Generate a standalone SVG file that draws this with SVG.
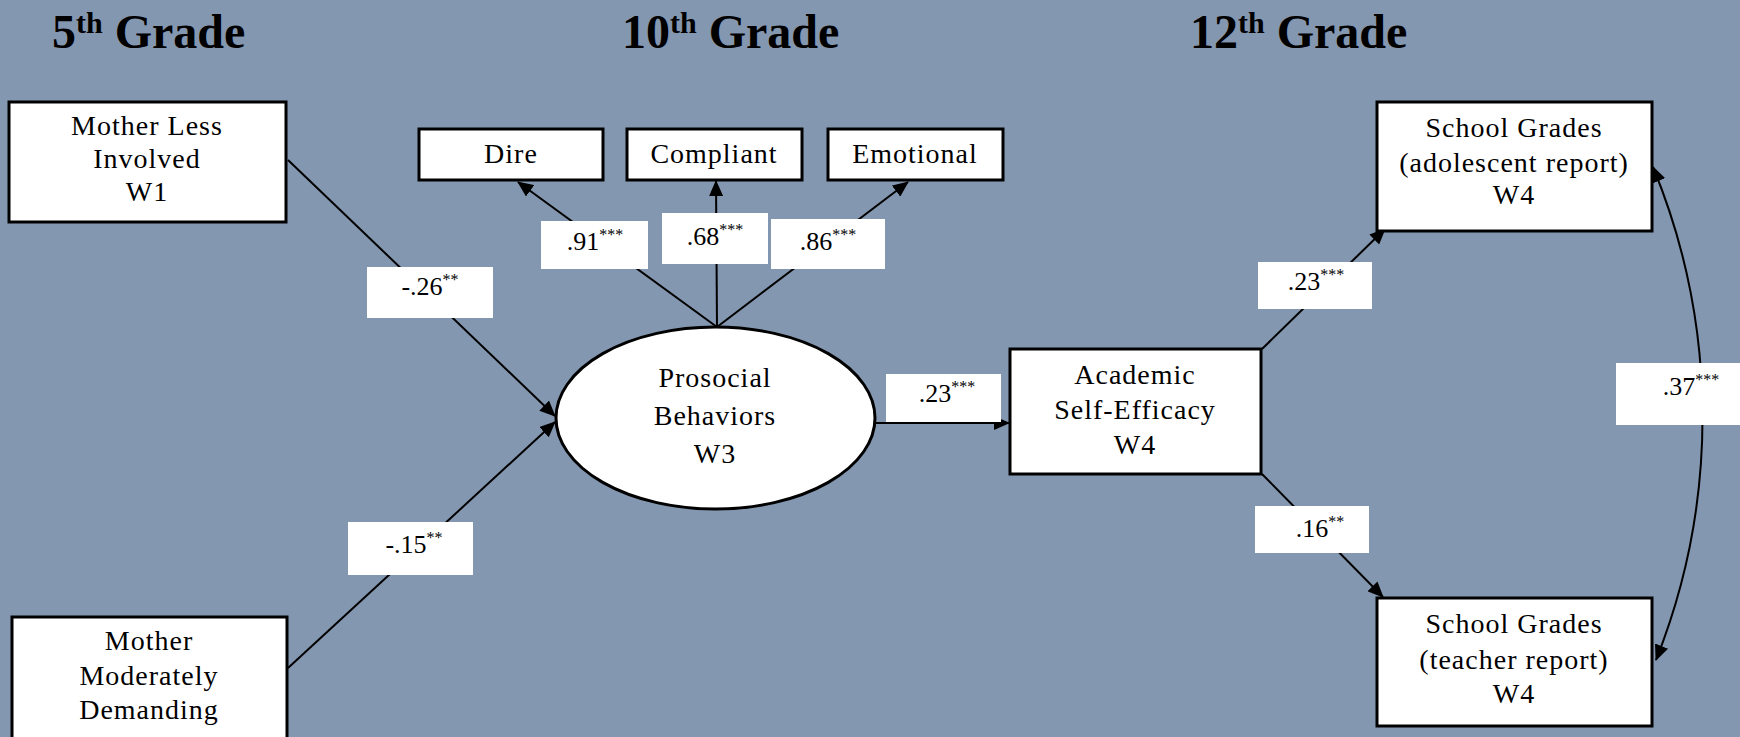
<svg xmlns="http://www.w3.org/2000/svg" width="1740" height="737" viewBox="0 0 1740 737">
<style>
.bg{fill:#8497B0}
.box{fill:#fff;stroke:#000;stroke-width:3}
.t{font-family:"Liberation Serif","Times New Roman",serif;font-size:28px;letter-spacing:1px;fill:#000;text-anchor:middle}
.title{font-family:"Liberation Serif","Times New Roman",serif;font-size:48px;font-weight:bold;fill:#000}
.sup{font-size:30px}
.lab{fill:#fff}
.lt{font-family:"Liberation Serif","Times New Roman",serif;font-size:26px;fill:#000;text-anchor:middle}
.ast{font-size:16px}
.c{stroke:#000;stroke-width:2;fill:none}
</style>
<defs>
<marker id="ah" markerUnits="userSpaceOnUse" markerWidth="16" markerHeight="14" refX="15" refY="7" orient="auto-start-reverse">
<path d="M0,0 L16,7 L0,14 z" fill="#000"/>
</marker>
</defs>
<rect class="bg" x="0" y="0" width="1740" height="737"/>
<g id="titles">
<text class="title" x="52" y="48">5<tspan class="sup" dy="-15">th</tspan><tspan dy="15"> Grade</tspan></text>
<text class="title" x="622" y="48">10<tspan class="sup" dy="-15">th</tspan><tspan dy="15"> Grade</tspan></text>
<text class="title" x="1190" y="48">12<tspan class="sup" dy="-15">th</tspan><tspan dy="15"> Grade</tspan></text>
</g>
<g id="connectors">
<line class="c" x1="288" y1="160" x2="555" y2="416" marker-end="url(#ah)"/>
<line class="c" x1="288" y1="668" x2="555" y2="422" marker-end="url(#ah)"/>
<line class="c" x1="717" y1="327" x2="518" y2="182" marker-end="url(#ah)"/>
<line class="c" x1="717" y1="327" x2="716" y2="181" marker-end="url(#ah)"/>
<line class="c" x1="717" y1="327" x2="908" y2="182" marker-end="url(#ah)"/>
<line class="c" x1="875" y1="423" x2="1009" y2="423" stroke-width="3" marker-end="url(#ah)"/>
<line class="c" x1="1262" y1="349" x2="1385" y2="229" marker-end="url(#ah)"/>
<line class="c" x1="1262" y1="474" x2="1383" y2="597" marker-end="url(#ah)"/>
<path class="c" d="M1653,167 A657,657 0 0 1 1656,660" marker-start="url(#ah)" marker-end="url(#ah)"/>
</g>
<g id="n_mli">
<rect class="box" x="9" y="102" width="277" height="120"/>
<text class="t" x="147" y="135">Mother Less</text>
<text class="t" x="147" y="168">Involved</text>
<text class="t" x="147" y="201">W1</text>
</g>
<g id="n_mmd">
<rect class="box" x="12" y="617" width="275" height="130"/>
<text class="t" x="149" y="650">Mother</text>
<text class="t" x="149" y="685">Moderately</text>
<text class="t" x="149" y="719">Demanding</text>
</g>
<g id="n_dire">
<rect class="box" x="419" y="129" width="184" height="51"/>
<text class="t" x="511" y="163">Dire</text>
</g>
<g id="n_compliant">
<rect class="box" x="627" y="129" width="175" height="51"/>
<text class="t" x="714" y="163">Compliant</text>
</g>
<g id="n_emotional">
<rect class="box" x="828" y="129" width="175" height="51"/>
<text class="t" x="915" y="163">Emotional</text>
</g>
<g id="n_prosocial">
<ellipse class="box" cx="715.5" cy="418" rx="159.5" ry="91"/>
<text class="t" x="715" y="387">Prosocial</text>
<text class="t" x="715" y="425">Behaviors</text>
<text class="t" x="715" y="463">W3</text>
</g>
<g id="n_academic">
<rect class="box" x="1010" y="349" width="251" height="125"/>
<text class="t" x="1135" y="384">Academic</text>
<text class="t" x="1135" y="419">Self-Efficacy</text>
<text class="t" x="1135" y="454">W4</text>
</g>
<g id="n_sg_adol">
<rect class="box" x="1377" y="102" width="275" height="129"/>
<text class="t" x="1514" y="137">School Grades</text>
<text class="t" x="1514" y="172">(adolescent report)</text>
<text class="t" x="1514" y="204">W4</text>
</g>
<g id="n_sg_teach">
<rect class="box" x="1377" y="598" width="275" height="128"/>
<text class="t" x="1514" y="633">School Grades</text>
<text class="t" x="1514" y="669">(teacher report)</text>
<text class="t" x="1514" y="703">W4</text>
</g>
<g id="labels">
<rect class="lab" x="367" y="267" width="126" height="51"/>
<text class="lt" x="430" y="295">-.26<tspan class="ast" dy="-10">**</tspan></text>
<rect class="lab" x="348" y="522" width="125" height="53"/>
<text class="lt" x="414" y="553">-.15<tspan class="ast" dy="-10">**</tspan></text>
<rect class="lab" x="541" y="221" width="107" height="48"/>
<text class="lt" x="595" y="250">.91<tspan class="ast" dy="-10">***</tspan></text>
<rect class="lab" x="662" y="213" width="106" height="51"/>
<text class="lt" x="715" y="245">.68<tspan class="ast" dy="-10">***</tspan></text>
<rect class="lab" x="771" y="219" width="114" height="50"/>
<text class="lt" x="828" y="250">.86<tspan class="ast" dy="-10">***</tspan></text>
<rect class="lab" x="886" y="374" width="115" height="48"/>
<text class="lt" x="947" y="402">.23<tspan class="ast" dy="-10">***</tspan></text>
<rect class="lab" x="1258" y="262" width="114" height="47"/>
<text class="lt" x="1316" y="290">.23<tspan class="ast" dy="-10">***</tspan></text>
<rect class="lab" x="1255" y="506" width="114" height="47"/>
<text class="lt" x="1320" y="537">.16<tspan class="ast" dy="-10">**</tspan></text>
<rect class="lab" x="1616" y="363" width="124" height="62"/>
<text class="lt" x="1691" y="395">.37<tspan class="ast" dy="-10">***</tspan></text>
</g>
</svg>
